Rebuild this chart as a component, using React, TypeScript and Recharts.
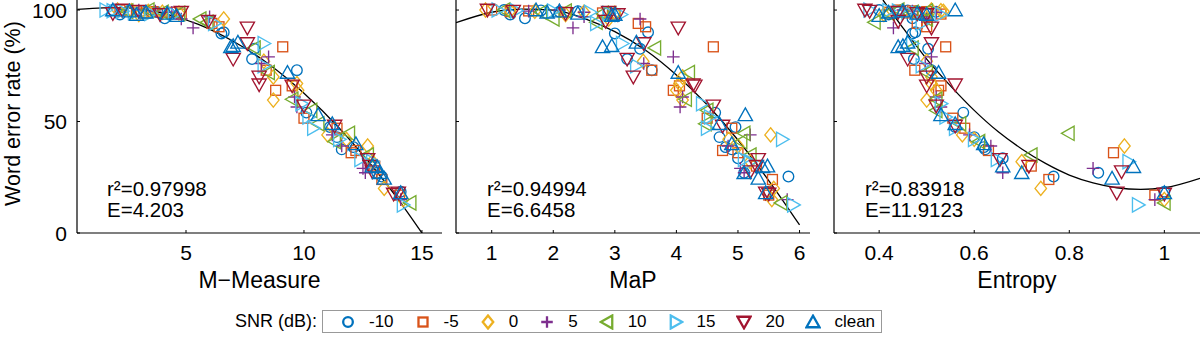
import { ComposedChart, Scatter, Line, XAxis, YAxis, Label } from 'recharts'

const snrLabels = ['-10', '-5', '0', '5', '10', '15', '20', 'clean']
const snrColors = ['#0072BD', '#D95319', '#EDB120', '#7E2F8E', '#77AC30', '#4DBEEE', '#A2142F', '#0072BD']
const snrMarkers = ['circle', 'square', 'diamond', 'plus', 'left', 'right', 'down', 'up']

// word error rate (%) per condition, one row per SNR; shared by the three panels
const wer = [
  [100, 99.8, 99.5, 99.2, 99, 98.5, 98, 96.3, 90, 89.5, 82.6, 78, 73, 54, 47.5, 43, 38.5, 37.5, 33.5, 27, 25.3, 18.5],
  [100, 99.6, 99.3, 99, 98.7, 98.2, 94, 92.5, 83.5, 73, 66, 64, 51.5, 47, 37, 36, 30, 24, 17],
  [100, 99.7, 99.4, 99, 98.6, 98, 96, 77, 70, 67, 64, 59.6, 44, 42, 39, 32, 20, 15],
  [100, 99.5, 99, 97, 96, 92, 79, 76, 61, 56.5, 44, 39, 29, 27, 15],
  [100, 99.5, 99, 98.5, 96, 94.5, 83, 72, 60, 55, 49, 44.7, 41, 35, 13.5],
  [100, 99.7, 99.5, 99, 98.5, 98, 94, 85, 75, 58, 52, 47, 42, 33, 32, 12.6],
  [100, 99.5, 99, 98.5, 98, 95, 92, 85, 78, 70, 66.5, 66, 57, 48, 33, 30, 27.5, 18, 17.5],
  [100, 99.5, 99, 98.5, 98, 97.5, 85.5, 84, 83.5, 72, 53, 49, 40, 30, 29.7, 27, 24.5, 18],
]

const mMeasure = [
  [1.9, 2.6, 3.1, 3.5, 3.8, 4.3, 2.2, 4.1, 6.6, 6.5, 7.9, 7.8, 9.7, 10.1, 11.1, 11.4, 12.1, 11.6, 12.7, 13.1, 13.3, 14.1],
  [2.2, 2.9, 3.6, 4.4, 3.3, 4.8, 6.1, 6.4, 9.1, 8.4, 9.5, 8.8, 10.0, 11.4, 12.2, 12.0, 13.0, 13.3, 14.05],
  [2.1, 2.7, 3.4, 4.0, 4.7, 3.0, 6.6, 8.3, 8.7, 9.7, 9.75, 8.7, 11.0, 11.8, 12.7, 12.9, 13.4, 14.2],
  [3.0, 3.7, 4.4, 6.0, 4.8, 5.3, 8.5, 8.2, 9.6, 9.7, 11.2, 11.6, 12.5, 12.6, 14.1],
  [3.4, 2.5, 4.0, 4.7, 5.6, 5.9, 7.9, 8.5, 9.5, 10.3, 10.6, 11.9, 11.3, 12.7, 14.5],
  [1.6, 1.9, 2.3, 2.8, 3.5, 4.5, 6.2, 8.3, 8.3, 9.9, 10.2, 10.4, 11.5, 12.4, 12.9, 14.2],
  [2.3, 3.0, 4.8, 1.9, 3.9, 5.95, 7.6, 7.6, 7.0, 8.1, 8.1, 9.5, 10.0, 11.3, 12.7, 12.8, 12.9, 14.0, 13.8],
  [1.9, 2.6, 3.3, 4.2, 2.9, 4.6, 7.2, 7.0, 6.9, 9.3, 10.6, 11.2, 12.2, 12.9, 13.1, 13.2, 13.4, 14.1],
]

const maP = [
  [1.2, 1.8, 2.4, 2.1, 2.9, 3.0, 1.3, 1.54, 3.54, 3.0, 3.41, 3.2, 3.6, 4.63, 4.96, 4.7, 4.8, 4.9, 5.0, 5.1, 5.82, 5.5],
  [1.0, 1.6, 1.3, 2.2, 2.8, 3.0, 3.38, 3.5, 4.6, 3.6, 4.05, 3.95, 4.5, 4.9, 4.75, 5.0, 5.3, 5.56, 5.5],
  [0.9, 1.3, 1.7, 2.5, 3.0, 2.2, 2.9, 3.46, 4.1, 4.05, 4.0, 4.1, 5.53, 4.85, 5.0, 5.2, 5.58, 5.55],
  [2.1, 1.6, 2.5, 2.5, 3.41, 2.32, 3.95, 3.47, 4.1, 4.06, 5.2, 4.84, 5.04, 5.1, 5.8],
  [1.2, 2.2, 1.8, 2.8, 2.0, 2.7, 3.65, 4.2, 4.15, 4.5, 4.47, 5.1, 5.05, 5.2, 5.7],
  [1.1, 1.4, 2.0, 2.6, 2.9, 3.1, 2.7, 3.12, 3.35, 4.42, 4.55, 4.5, 5.72, 5.1, 5.2, 5.9],
  [0.93, 1.35, 2.9, 2.2, 3.05, 2.85, 4.03, 3.47, 3.2, 3.3, 4.27, 4.3, 4.6, 4.75, 5.33, 5.3, 5.2, 5.45, 5.5],
  [1.72, 2.1, 1.9, 2.4, 3.0, 2.95, 3.35, 2.95, 2.8, 4.03, 5.12, 4.7, 4.9, 5.48, 5.4, 5.1, 5.33, 5.45],
]

const entropy = [
  [0.4, 0.46, 0.48, 0.52, 0.44, 0.5, 0.42, 0.47, 0.476, 0.47, 0.503, 0.473, 0.51, 0.577, 0.56, 0.6, 0.62, 0.623, 0.66, 0.861, 0.767, 1.0],
  [0.44, 0.47, 0.5, 0.42, 0.46, 0.53, 0.48, 0.5, 0.54, 0.475, 0.53, 0.525, 0.555, 0.58, 0.63, 0.893, 0.72, 0.757, 0.98],
  [0.51, 0.53, 0.535, 0.45, 0.48, 0.41, 0.5, 0.5, 0.51, 0.51, 0.52, 0.5, 0.575, 0.6, 0.916, 0.7, 0.74, 1.0],
  [0.45, 0.47, 0.52, 0.49, 0.5, 0.43, 0.51, 0.497, 0.52, 0.53, 0.59, 0.635, 0.85, 0.66, 0.98],
  [0.44, 0.5, 0.47, 0.42, 0.5, 0.39, 0.47, 0.5, 0.52, 0.52, 0.57, 0.798, 0.61, 0.72, 1.0],
  [0.38, 0.42, 0.44, 0.46, 0.48, 0.53, 0.49, 0.47, 0.49, 0.53, 0.54, 0.56, 0.6, 0.648, 0.925, 0.945],
  [0.37, 0.38, 0.44, 0.48, 0.5, 0.44, 0.51, 0.51, 0.46, 0.5, 0.56, 0.5, 0.52, 0.56, 0.654, 0.715, 0.91, 0.9, 1.0],
  [0.56, 0.45, 0.42, 0.48, 0.5, 0.4, 0.46, 0.45, 0.44, 0.525, 0.53, 0.56, 0.62, 0.66, 0.935, 0.7, 0.89, 1.0],
]

// quadratic fit curves
const mFitX = [0.4, 1.5, 2.5, 4, 5.5, 7, 8.5, 10, 11.5, 13, 14, 15]
const mFitY = [100.3, 101, 101, 98.6, 93.7, 86, 75.8, 62.7, 47, 28.6, 15, 0]
const mapFitX = [0.42, 1, 1.5, 2, 2.5, 3, 3.5, 4, 4.5, 5, 5.5, 6]
const mapFitY = [94.3, 99, 100.4, 100, 96.3, 90.3, 82, 70.9, 57.5, 41.7, 23.5, 3.6]
const entFitX = [0.408, 0.45, 0.5, 0.55, 0.6, 0.65, 0.7, 0.75, 0.8, 0.85, 0.9, 0.95, 1.0, 1.075]
const entFitY = [104.5, 92, 78, 66, 55, 45.5, 37.7, 31.2, 26, 22.5, 20.3, 19.6, 20.3, 24.5]

const werTicks = [0, 50, 100]
const mTicks = [5, 10, 15]
const mapTicks = [1, 2, 3, 4, 5, 6]
const entTicks = [0.4, 0.6, 0.8, 1]

const FONT = '"Liberation Sans", Arial, Helvetica, sans-serif'

const panels = [
  { name: 'M−Measure', xs: mMeasure, ticks: mTicks, domain: [0.38, 15.85], fitX: mFitX, fitY: mFitY, r2: '0.97998', err: '4.203', left: 0, width: 450, axisW: 77, right: 8, noteX: 107, yLabels: true },
  { name: 'MaP', xs: maP, ticks: mapTicks, domain: [0.42, 6.17], fitX: mapFitX, fitY: mapFitY, r2: '0.94994', err: '6.6458', left: 440, width: 370, axisW: 16, right: 0, noteX: 487, yLabels: false },
  { name: 'Entropy', xs: entropy, ticks: entTicks, domain: [0.305, 1.075], fitX: entFitX, fitY: entFitY, r2: '0.83918', err: '11.9123', left: 820, width: 380, axisW: 14, right: 0, noteX: 865, yLabels: false },
]

function Marker({ cx, cy, kind, color, sw = 1.35, k = 1.15 }: { cx: number; cy: number; kind: string; color: string; sw?: number; k?: number }) {
  const st = { fill: 'none', stroke: color, strokeWidth: sw }
  const a = 4.6 * k
  const b = 6.2 * k
  const c = 5 * k
  switch (kind) {
    case 'circle':
      return <circle cx={cx} cy={cy} r={a} {...st} />
    case 'square':
      return <rect x={cx - 4.3 * k} y={cy - 4.3 * k} width={8.6 * k} height={8.6 * k} {...st} />
    case 'diamond':
      return <polygon points={`${cx},${cy - b} ${cx + c},${cy} ${cx},${cy + b} ${cx - c},${cy}`} {...st} />
    case 'plus':
      return <path d={`M${cx - 5.5 * k},${cy}H${cx + 5.5 * k}M${cx},${cy - 5.5 * k}V${cy + 5.5 * k}`} {...st} />
    case 'left':
      return <polygon points={`${cx - 6 * k},${cy} ${cx + c},${cy - b} ${cx + c},${cy + b}`} {...st} />
    case 'right':
      return <polygon points={`${cx + 6 * k},${cy} ${cx - c},${cy - b} ${cx - c},${cy + b}`} {...st} />
    case 'down':
      return <polygon points={`${cx - b},${cy - c} ${cx + b},${cy - c} ${cx},${cy + 6 * k}`} {...st} />
    default:
      return <polygon points={`${cx - b},${cy + c} ${cx + b},${cy + c} ${cx},${cy - 6 * k}`} {...st} />
  }
}

const xTick = (p: any) => (
  <g>
    <line x1={p.x} x2={p.x} y1={p.y} y2={p.y - 3} stroke="#000" strokeWidth={1} />
    <text x={p.x} y={p.y + 27} textAnchor="middle" fontSize={21} fill="#000">{p.payload.value}</text>
  </g>
)

const yTick = (withText: boolean) => (p: any) => (
  <g>
    <line x1={p.x} x2={p.x + 3} y1={p.y} y2={p.y} stroke="#000" strokeWidth={1} />
    {withText && (
      <text x={p.x - 10} y={p.y} dy="0.36em" textAnchor="end" fontSize={21} fill="#000">{p.payload.value}</text>
    )}
  </g>
)

function Panel({ cfg }: { cfg: (typeof panels)[number] }) {
  const fit = cfg.fitX.map((x, i) => ({ x, y: cfg.fitY[i] }))
  return (
    <div style={{ position: 'absolute', left: cfg.left, top: 0 }}>
      <ComposedChart width={cfg.width} height={300} margin={{ top: 0, right: cfg.right, bottom: 0, left: 0 }}>
        <XAxis
          type="number" dataKey="x" domain={cfg.domain} ticks={cfg.ticks} allowDataOverflow
          height={67} tickSize={0} tickMargin={0} tickLine={false} tick={xTick}
          axisLine={{ stroke: '#000', strokeWidth: 1.2 }}
        >
          <Label value={cfg.name} position="insideBottom" offset={12} style={{ fontSize: 23, fill: '#000' }} />
        </XAxis>
        <YAxis
          type="number" dataKey="y" domain={[0, 104.5]} ticks={werTicks} allowDataOverflow
          width={cfg.axisW} tickSize={0} tickMargin={0} tickLine={false} tick={yTick(cfg.yLabels)}
          axisLine={{ stroke: '#000', strokeWidth: 1.2 }}
        >
          {cfg.yLabels && (
            <Label
              content={(p: any) => {
                const vb = p.viewBox
                const cx = vb.x + 20
                const cy = vb.y + vb.height / 2 - 3
                return (
                  <text x={cx} y={cy} transform={`rotate(-90, ${cx}, ${cy})`} textAnchor="middle" fontSize={21.5} fill="#000">
                    Word error rate (%)
                  </text>
                )
              }}
            />
          )}
        </YAxis>
        {snrLabels.map((snr, s) => (
          <Scatter
            key={snr}
            name={snr}
            data={cfg.xs[s].map((x, i) => ({ x, y: wer[s][i] }))}
            isAnimationActive={false}
            shape={(p: any) => <Marker cx={p.cx} cy={p.cy} kind={snrMarkers[s]} color={snrColors[s]} />}
          />
        ))}
        <Line data={fit} dataKey="y" type="monotone" stroke="#000" strokeWidth={1.3} dot={false} isAnimationActive={false} />
      </ComposedChart>
    </div>
  )
}

export default function App() {
  return (
    <div style={{ position: 'absolute', left: 0, top: 0, width: 1200, height: 337, background: '#fff', fontFamily: FONT, overflow: 'hidden' }}>
      {panels.map((p) => <Panel key={p.name} cfg={p} />)}

      <svg width={1200} height={300} style={{ position: 'absolute', left: 0, top: 0, pointerEvents: 'none' }}>
        {panels.map((p) => (
          <g key={p.name} fontSize={20.5} fill="#000">
            <text x={p.noteX} y={196}>{`r²=${p.r2}`}</text>
            <text x={p.noteX} y={217}>E={p.err}</text>
          </g>
        ))}
      </svg>

      <div style={{ position: 'absolute', left: 180, top: 310, width: 137, height: 23, lineHeight: '23px', fontSize: 18, textAlign: 'right' }}>
        SNR (dB):
      </div>
      <div
        style={{
          position: 'absolute', left: 322, top: 310, height: 23, boxSizing: 'border-box',
          border: '1px solid #999', display: 'flex', alignItems: 'center', paddingLeft: 17, paddingRight: 6,
          fontSize: 17, whiteSpace: 'nowrap',
        }}
      >
        {snrLabels.map((snr, s) => (
          <span key={snr} style={{ display: 'flex', alignItems: 'center', marginRight: s < snrLabels.length - 1 ? 21 : 0 }}>
            <svg width={16} height={16} style={{ display: 'block' }}>
              <Marker cx={8} cy={8} kind={snrMarkers[s]} color={snrColors[s]} sw={2.3} k={1.05} />
            </svg>
            <span style={{ marginLeft: 13 }}>{snr}</span>
          </span>
        ))}
      </div>
    </div>
  )
}
